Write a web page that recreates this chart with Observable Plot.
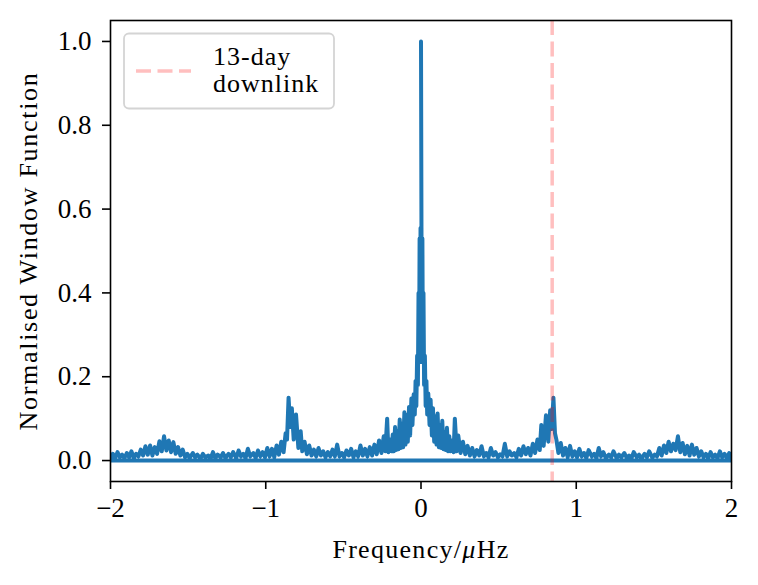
<!DOCTYPE html>
<html><head><meta charset="utf-8">
<script src="https://cdn.jsdelivr.net/npm/d3@7"></script>
<script src="https://cdn.jsdelivr.net/npm/@observablehq/plot@0.6"></script>
<style>
body{margin:0;background:#fff}
#chart{position:relative;width:758px;height:585px}
[aria-label="x-axis label"] text{letter-spacing:1.3px}
[aria-label="y-axis label"] text{letter-spacing:1.7px}
[aria-label="x-axis tick label"],[aria-label="y-axis tick label"]{font-size:27px}
</style>
</head><body><div id="chart"></div>
<script>
// Window function, positive-frequency half: [frequency (μHz), normalised power]
const positiveHalf = [[0,1.000],[0.003,0.555],[0.006,0.235],[0.009,0.530],[0.012,0.260],[0.016,0.400],[0.02,0.180],[0.025,0.250],[0.03,0.130],[0.035,0.190],[0.04,0.110],[0.047,0.160],[0.055,0.085],[0.062,0.145],[0.07,0.060],[0.077,0.125],[0.085,0.045],[0.092,0.105],[0.10,0.038],[0.107,0.112],[0.115,0.032],[0.122,0.085],[0.13,0.030],[0.137,0.095],[0.145,0.027],[0.152,0.068],[0.16,0.025],[0.167,0.078],[0.175,0.022],[0.182,0.058],[0.19,0.022],[0.20,0.048],[0.21,0.020],[0.218,0.100],[0.23,0.022],[0.24,0.060],[0.255,0.018],[0.27,0.045],[0.285,0.015],[0.30,0.035],[0.315,0.012],[0.33,0.030],[0.345,0.010],[0.36,0.025],[0.375,0.012],[0.39,0.034],[0.405,0.010],[0.42,0.018],[0.435,0.008],[0.45,0.030],[0.465,0.012],[0.48,0.020],[0.495,0.008],[0.51,0.015],[0.525,0.010],[0.54,0.040],[0.555,0.010],[0.57,0.022],[0.585,0.012],[0.60,0.018],[0.615,0.008],[0.63,0.028],[0.645,0.012],[0.66,0.034],[0.675,0.015],[0.69,0.030],[0.705,0.012],[0.72,0.040],[0.735,0.018],[0.75,0.050],[0.765,0.025],[0.775,0.085],[0.79,0.035],[0.805,0.108],[0.82,0.045],[0.832,0.120],[0.842,0.075],[0.853,0.150],[0.863,0.065],[0.872,0.050],[0.885,0.018],[0.90,0.042],[0.915,0.012],[0.93,0.030],[0.945,0.008],[0.96,0.035],[0.975,0.010],[0.99,0.022],[1.005,0.008],[1.02,0.028],[1.035,0.010],[1.05,0.018],[1.065,0.006],[1.08,0.025],[1.10,0.010],[1.115,0.016],[1.13,0.006],[1.145,0.030],[1.16,0.010],[1.175,0.020],[1.19,0.006],[1.21,0.014],[1.225,0.008],[1.24,0.022],[1.26,0.006],[1.275,0.014],[1.29,0.008],[1.31,0.018],[1.325,0.006],[1.34,0.012],[1.355,0.005],[1.37,0.020],[1.39,0.008],[1.405,0.014],[1.42,0.005],[1.44,0.016],[1.455,0.008],[1.47,0.022],[1.49,0.007],[1.505,0.014],[1.52,0.010],[1.535,0.030],[1.55,0.012],[1.565,0.036],[1.58,0.018],[1.595,0.045],[1.61,0.022],[1.625,0.040],[1.64,0.025],[1.655,0.058],[1.67,0.020],[1.685,0.042],[1.70,0.015],[1.715,0.035],[1.73,0.012],[1.745,0.038],[1.76,0.014],[1.775,0.030],[1.79,0.010],[1.805,0.022],[1.82,0.008],[1.835,0.016],[1.85,0.006],[1.865,0.020],[1.88,0.008],[1.895,0.014],[1.91,0.006],[1.925,0.022],[1.94,0.008],[1.955,0.016],[1.97,0.006],[1.985,0.018],[2.00,0.000]];
// Negative-frequency half (drawn after the positive half, as in the FFT ordering)
const negativeHalf = [[-2.00,0.000],[-1.985,0.016],[-1.97,0.006],[-1.955,0.020],[-1.94,0.008],[-1.925,0.014],[-1.91,0.006],[-1.895,0.018],[-1.88,0.008],[-1.865,0.022],[-1.85,0.006],[-1.835,0.016],[-1.82,0.010],[-1.805,0.026],[-1.79,0.012],[-1.775,0.034],[-1.76,0.014],[-1.745,0.036],[-1.73,0.012],[-1.715,0.032],[-1.70,0.016],[-1.685,0.046],[-1.67,0.022],[-1.655,0.058],[-1.64,0.024],[-1.625,0.048],[-1.61,0.020],[-1.595,0.044],[-1.58,0.016],[-1.565,0.032],[-1.55,0.012],[-1.535,0.026],[-1.52,0.008],[-1.505,0.016],[-1.49,0.006],[-1.47,0.018],[-1.455,0.008],[-1.44,0.014],[-1.42,0.005],[-1.405,0.016],[-1.39,0.008],[-1.37,0.012],[-1.355,0.005],[-1.34,0.020],[-1.325,0.006],[-1.31,0.014],[-1.29,0.008],[-1.275,0.018],[-1.26,0.006],[-1.24,0.016],[-1.225,0.008],[-1.21,0.020],[-1.19,0.006],[-1.175,0.024],[-1.16,0.010],[-1.145,0.016],[-1.13,0.006],[-1.115,0.028],[-1.10,0.010],[-1.08,0.018],[-1.065,0.006],[-1.05,0.024],[-1.035,0.010],[-1.02,0.020],[-1.005,0.008],[-0.99,0.030],[-0.975,0.010],[-0.96,0.028],[-0.945,0.008],[-0.93,0.036],[-0.915,0.014],[-0.90,0.045],[-0.885,0.020],[-0.872,0.065],[-0.863,0.050],[-0.853,0.150],[-0.842,0.080],[-0.832,0.125],[-0.82,0.050],[-0.805,0.110],[-0.79,0.030],[-0.775,0.070],[-0.765,0.022],[-0.75,0.045],[-0.735,0.015],[-0.72,0.036],[-0.705,0.012],[-0.69,0.026],[-0.675,0.010],[-0.66,0.030],[-0.645,0.012],[-0.63,0.022],[-0.615,0.008],[-0.60,0.020],[-0.585,0.010],[-0.57,0.026],[-0.555,0.010],[-0.54,0.038],[-0.525,0.010],[-0.51,0.018],[-0.495,0.008],[-0.48,0.024],[-0.465,0.012],[-0.45,0.028],[-0.435,0.008],[-0.42,0.022],[-0.405,0.010],[-0.39,0.036],[-0.375,0.012],[-0.36,0.028],[-0.345,0.010],[-0.33,0.032],[-0.315,0.012],[-0.30,0.038],[-0.285,0.015],[-0.27,0.048],[-0.255,0.018],[-0.24,0.058],[-0.23,0.022],[-0.218,0.100],[-0.21,0.020],[-0.20,0.050],[-0.19,0.022],[-0.182,0.062],[-0.175,0.022],[-0.167,0.080],[-0.16,0.025],[-0.152,0.070],[-0.145,0.027],[-0.137,0.098],[-0.13,0.030],[-0.122,0.088],[-0.115,0.032],[-0.107,0.115],[-0.10,0.038],[-0.092,0.108],[-0.085,0.045],[-0.077,0.128],[-0.07,0.060],[-0.062,0.148],[-0.055,0.085],[-0.047,0.158],[-0.04,0.110],[-0.035,0.190],[-0.03,0.130],[-0.025,0.250],[-0.02,0.180],[-0.016,0.400],[-0.012,0.260],[-0.009,0.530],[-0.006,0.235],[-0.003,0.555]];

const downlinkFreq = [0.845];
const legendLabel = ["13-day", "downlink"];
const xTicks = [-2, -1, 0, 1, 2];
const yTicks = [0, 0.2, 0.4, 0.6, 0.8, 1.0];
const xLabel = "Frequency/μHz";
const yLabel = "Normalised Window Function";

const data = positiveHalf.concat(negativeHalf).map(([f, p]) => ({f, p}));

const plot = Plot.plot({
  width: 758, height: 585,
  marginLeft: 110, marginRight: 27, marginTop: 20, marginBottom: 104,
  style: {fontFamily: "'Liberation Serif', serif", fontSize: "26px", color: "black", background: "white"},
  x: {domain: [-2, 2], ticks: xTicks, tickFormat: d => d < 0 ? "\u2212" + Math.abs(d) : String(d),
      tickSize: 8, tickPadding: 8, label: xLabel, labelAnchor: "center", labelOffset: 76, labelArrow: "none"},
  y: {domain: [-0.05, 1.05], ticks: yTicks, tickFormat: d3.format(".1f"),
      tickSize: 8, tickPadding: 11, label: yLabel, labelAnchor: "center", labelOffset: 92, labelArrow: "none"},
  marks: [
    Plot.line(data, {x: "f", y: "p", stroke: "#1f77b4", strokeWidth: 4, clip: true}),
    Plot.ruleX(downlinkFreq, {stroke: "red", strokeOpacity: 0.25, strokeWidth: 3.5, strokeDasharray: "15,6.5"}),
    Plot.frame({stroke: "black", strokeWidth: 1.6})
  ]
});
document.getElementById("chart").appendChild(plot);

plot.querySelectorAll('[aria-label$="tick"]').forEach(g => g.setAttribute("stroke-width", "1.6"));
plot.querySelectorAll("text").forEach(t => {
  if (t.textContent === xLabel) {
    t.textContent = "";
    const ns = "http://www.w3.org/2000/svg";
    [["Frequency/", "normal"], ["μ", "italic"], ["Hz", "normal"]].forEach(([s, st]) => {
      const ts = document.createElementNS(ns, "tspan");
      ts.textContent = s; ts.setAttribute("font-style", st);
      t.appendChild(ts);
    });
  }
});

// legend
(function () {
  const ns = "http://www.w3.org/2000/svg";
  const g = document.createElementNS(ns, "g");
  g.setAttribute("text-anchor", "start");
  const rect = document.createElementNS(ns, "rect");
  Object.entries({x: 124, y: 33.5, width: 210, height: 75, rx: 5, fill: "white", "fill-opacity": 0.8, stroke: "#d4d4d4", "stroke-width": 1.8}).forEach(([k, v]) => rect.setAttribute(k, v));
  g.appendChild(rect);
  const ln = document.createElementNS(ns, "line");
  Object.entries({x1: 136, x2: 191, y1: 71, y2: 71, stroke: "red", "stroke-opacity": 0.25, "stroke-width": 3.5, "stroke-dasharray": "15,6.5"}).forEach(([k, v]) => ln.setAttribute(k, v));
  g.appendChild(ln);
  legendLabel.forEach((s, i) => {
    const t = document.createElementNS(ns, "text");
    t.setAttribute("x", 213); t.setAttribute("y", 65 + i * 27);
    t.setAttribute("font-size", "26px"); t.setAttribute("letter-spacing", "1px");
    t.setAttribute("text-anchor", "start");
    t.setAttribute("fill", "black");
    t.textContent = s;
    g.appendChild(t);
  });
  plot.appendChild(g);
})();
</script>
</body></html>
